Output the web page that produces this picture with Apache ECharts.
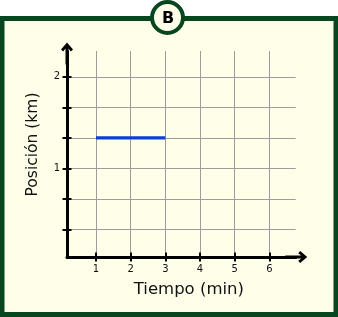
<!DOCTYPE html>
<html>
<head>
<meta charset="utf-8">
<script src="https://cdn.jsdelivr.net/npm/echarts@6/dist/echarts.min.js"></script>
<style>
html,body{margin:0;padding:0;background:#ffffff;}
#chart{width:338px;height:317px;}
</style>
</head>
<body>
<div id="chart"></div>
<script>
// ---- data ----
const timeTicks = [1, 2, 3, 4, 5, 6];
const posTicks = [0.333, 0.667, 1, 1.333, 1.667, 2];
const posLabels = [1, 2];
const segTime = [1, 3];
const segPos = [1.333, 1.333];
const panelLetter = 'B';
const xName = 'Tiempo (min)';
const yName = 'Posición (km)';

// ---- styles ----
const GREEN = '#07461e';
const CREAM = '#fefee9';
const FONT = 'DejaVu Sans';
const arrowPath = 'path://M6,0 L12,7 L9.8,9 L7.5,6 L7.5,22 L4.5,22 L4.5,6 L2.2,9 L0,7 Z';

const chart = echarts.init(document.getElementById('chart'), null, {renderer: 'canvas'});

function mainAxis(extra) {
  return Object.assign({
    type: 'value',
    axisLine: {show: true, onZero: false, symbol: ['none', arrowPath], symbolSize: [12, 22],
      lineStyle: {color: '#000', width: 3}},
    axisTick: {show: true, inside: false, length: 4.5, lineStyle: {color: '#000', width: 2}},
    splitLine: {show: true, lineStyle: {color: '#a3a3a3', width: 1}},
    axisLabel: {color: '#111', fontFamily: FONT, fontSize: 10}
  }, extra);
}
function tickAxis(extra) {
  return Object.assign({
    type: 'value',
    axisLine: {show: false},
    axisTick: {show: true, inside: true, length: 4.5, lineStyle: {color: '#000', width: 2}},
    splitLine: {show: false},
    axisLabel: {show: false}
  }, extra);
}

const xMin = 0.1635, xMax = 6.76, yMin = 0.033, yMax = 2.282;

chart.setOption({
  animation: false,
  grid: {left: 67, right: 42.3, top: 51, bottom: 60, containLabel: false},
  xAxis: [
    mainAxis({
      min: xMin, max: xMax, position: 'bottom',
      axisLine: {show: true, onZero: false, symbol: ['none', arrowPath], symbolSize: [12, 22], symbolOffset: [0, 0.5],
        lineStyle: {color: '#000', width: 3}},
      axisTick: {show: true, inside: false, length: 4.5, customValues: timeTicks, lineStyle: {color: '#000', width: 2}},
      splitLine: {show: true, customValues: timeTicks, lineStyle: {color: '#9c9c9c', width: 1}},
      axisLabel: {customValues: timeTicks, color: '#111', fontFamily: FONT, fontSize: 10, margin: 7},
      name: xName, nameLocation: 'middle', nameGap: 24,
      nameTextStyle: {fontFamily: FONT, fontSize: 16.5, color: '#111', padding: [0, 0, 0, 15]}
    }),
    tickAxis({min: xMin, max: xMax, position: 'bottom',
      axisTick: {show: true, inside: true, length: 4.5, customValues: timeTicks, lineStyle: {color: '#000', width: 2}}})
  ],
  yAxis: [
    mainAxis({
      min: yMin, max: yMax, position: 'left',
      axisLine: {show: true, onZero: false, symbol: ['none', arrowPath], symbolSize: [12, 22], symbolOffset: [0, -2.5],
        lineStyle: {color: '#000', width: 3}},
      axisTick: {show: true, inside: false, length: 4.5, customValues: posTicks, lineStyle: {color: '#000', width: 2}},
      splitLine: {show: true, customValues: posTicks, lineStyle: {color: '#9c9c9c', width: 1}},
      axisLabel: {customValues: posLabels, color: '#111', fontFamily: FONT, fontSize: 10, margin: 7},
      name: yName, nameLocation: 'middle', nameGap: 26,
      nameTextStyle: {fontFamily: FONT, fontSize: 15.5, color: '#111', padding: [0, 0, 0, 19]}
    }),
    tickAxis({min: yMin, max: yMax, position: 'left',
      axisTick: {show: true, inside: true, length: 4.5, customValues: posTicks, lineStyle: {color: '#000', width: 2}}})
  ],
  graphic: [
    {type: 'rect', z: -10, silent: true,
      shape: {x: 2, y: 18.5, width: 334, height: 296},
      style: {fill: CREAM, stroke: GREEN, lineWidth: 5}},
    {type: 'circle', z: 100, silent: true,
      shape: {cx: 167.5, cy: 17.5, r: 15.5},
      style: {fill: CREAM, stroke: GREEN, lineWidth: 4}},
    {type: 'text', z: 101, silent: true, x: 168, y: 18.5,
      style: {text: panelLetter, fill: '#000', font: 'bold 16px "DejaVu Sans"', align: 'center', verticalAlign: 'middle'}}
  ],
  series: [{
    type: 'line',
    data: segTime.map((t, i) => [t, segPos[i]]),
    showSymbol: false,
    symbol: 'none',
    lineStyle: {color: '#0a3fd8', width: 3.3, cap: 'butt'},
    z: 5
  }]
});
</script>
</body>
</html>
